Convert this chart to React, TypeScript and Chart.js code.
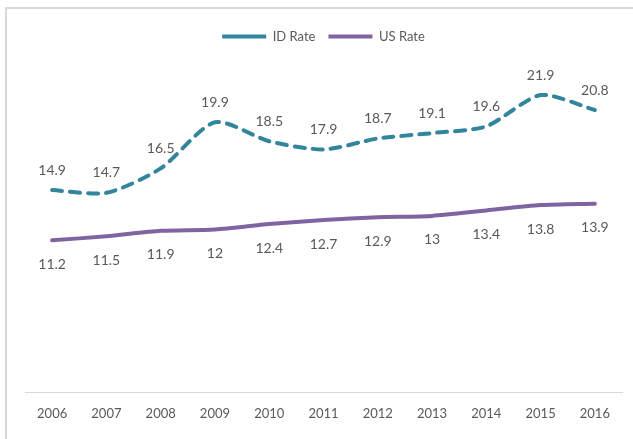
import React, { useEffect, useRef } from "react";
import { Chart, registerables } from "chart.js";

Chart.register(...registerables);

const years = ["2006", "2007", "2008", "2009", "2010", "2011", "2012", "2013", "2014", "2015", "2016"];
const idRate = [14.9, 14.7, 16.5, 19.9, 18.5, 17.9, 18.7, 19.1, 19.6, 21.9, 20.8];
const usRate = [11.2, 11.5, 11.9, 12, 12.4, 12.7, 12.9, 13, 13.4, 13.8, 13.9];

const FONT = "Lato, 'Open Sans', sans-serif";
const TEXT = "#595959";

const labelPlugin = {
  id: "pointLabels",
  afterDatasetsDraw(chart: any) {
    const ctx = chart.ctx;
    ctx.save();
    ctx.font = `14px ${FONT}`;
    ctx.fillStyle = TEXT;
    ctx.textAlign = "center";
    ctx.textBaseline = "middle";
    chart.data.datasets.forEach((ds: any, i: number) => {
      const meta = chart.getDatasetMeta(i);
      meta.data.forEach((pt: any, j: number) => {
        const v = ds.data[j];
        const dy = i === 0 ? -20 : 24;
        ctx.fillText(String(v), pt.x, pt.y + dy);
      });
    });
    ctx.restore();
  },
};

export default function App() {
  const ref = useRef<HTMLCanvasElement | null>(null);
  useEffect(() => {
    if (!ref.current) return;
    const chart = new Chart(ref.current, {
      type: "line",
      data: {
        labels: years,
        datasets: [
          {
            label: "ID Rate",
            data: idRate,
            borderColor: "#31859C",
            backgroundColor: "#31859C",
            borderWidth: 4,
            borderDash: [10, 8],
            borderCapStyle: "round",
            pointRadius: 0,
            tension: 0.25,
            pointStyle: "line",
          },
          {
            label: "US Rate",
            data: usRate,
            borderColor: "#8064A2",
            backgroundColor: "#8064A2",
            borderWidth: 4,
            borderCapStyle: "round",
            pointRadius: 0,
            tension: 0.25,
            pointStyle: "line",
          },
        ],
      },
      options: {
        animation: false,
        responsive: false,
        maintainAspectRatio: false,
        layout: { padding: { left: 25, right: 11, top: 17, bottom: 3 } },
        plugins: {
          tooltip: { enabled: false },
          legend: {
            position: "top",
            labels: {
              usePointStyle: true,
              pointStyleWidth: 44,
              boxHeight: 4,
              color: TEXT,
              font: { family: FONT, size: 13 },
              padding: 13,
            },
          },
        },
        scales: {
          y: { display: false, min: 0, max: 25 },
          x: {
            offset: true,
            grid: { display: false, drawTicks: false },
            border: { display: true, color: "#D9D9D9", width: 1 },
            ticks: { color: TEXT, font: { family: FONT, size: 13 }, padding: 14 },
          },
        },
      },
      plugins: [labelPlugin],
    } as any);
    return () => chart.destroy();
  }, []);
  return (
    <div style={{ position: "fixed", left: 0, top: 0, width: 633, height: 439, overflow: "hidden", background: "#fff" }}>
      <div
        style={{
          position: "absolute",
          left: 5,
          top: 7,
          width: 700,
          height: 500,
          borderLeft: "2px solid #D9D9D9",
          borderTop: "2px solid #D9D9D9",
        }}
      />
      <canvas ref={ref} width={633} height={439} style={{ position: "absolute", left: 0, top: 0, width: 633, height: 439 }} />
    </div>
  );
}
